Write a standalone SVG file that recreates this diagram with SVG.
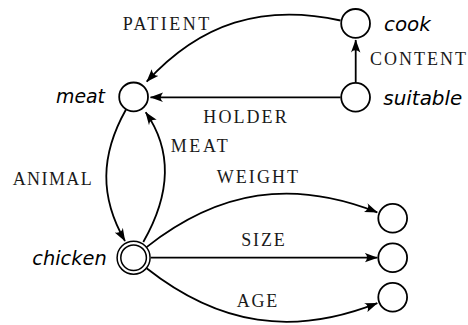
<svg xmlns="http://www.w3.org/2000/svg" width="468" height="325" viewBox="0 0 468 325">
<defs>
<marker id="arr" markerUnits="userSpaceOnUse" markerWidth="14" markerHeight="11" viewBox="0 0 14 11" refX="12.5" refY="5.5" orient="auto">
<path d="M0,0.8 Q4.5,4.5 0,10.2 L13,5.5 Z" fill="#000"/>
</marker>
<style>
.n{fill:#fff;stroke:#000;stroke-width:1.8}
.d{fill:none;stroke:#000;stroke-width:1.5}
.e{fill:none;stroke:#000;stroke-width:1.8;marker-end:url(#arr)}
.lbl{font-family:"Liberation Serif","Times New Roman",serif;font-size:18px;fill:#1a1a1a}
.nm{font-family:"DejaVu Sans","Liberation Sans",sans-serif;font-style:italic;font-size:19px;fill:#000}
</style>
</defs>
<rect width="468" height="325" fill="#fff"/>
<g id="edges">
<path class="e" d="M340.5,20.5 C262.9,3.3 200.4,23.1 146.7,81.7"/>
<path class="e" d="M340.5,97.3 L150.5,97.3"/>
<path class="e" d="M355.7,82 L355.7,40"/>
<path class="e" d="M126,109.5 C100.15,155.4 99.65,197.1 125,241"/>
<path class="e" d="M143.3,242 C168.3,198.4 174.4,153.3 145.7,112.3"/>
<path class="e" d="M146.6,247.1 C219.5,189.7 293,179 377.3,212.3"/>
<path class="e" d="M151,257.7 L377.3,257.7"/>
<path class="e" d="M146.6,268.3 C219.5,325.7 293,336.4 377.3,303.1"/>
</g>
<g id="edge-labels">
<text class="lbl" x="122.7" y="30" textLength="86.6" lengthAdjust="spacing">PATIENT</text>
<text class="lbl" x="370" y="65.3" textLength="96" lengthAdjust="spacing">CONTENT</text>
<text class="lbl" x="203.3" y="123.3" textLength="83.4" lengthAdjust="spacing">HOLDER</text>
<text class="lbl" x="12.7" y="185" textLength="79" lengthAdjust="spacing">ANIMAL</text>
<text class="lbl" x="170.7" y="151.5" textLength="57" lengthAdjust="spacing">MEAT</text>
<text class="lbl" x="216.7" y="183.2" textLength="81.3" lengthAdjust="spacing">WEIGHT</text>
<text class="lbl" x="241.3" y="245.6" textLength="43.4" lengthAdjust="spacing">SIZE</text>
<text class="lbl" x="236.7" y="306.6" textLength="40.6" lengthAdjust="spacing">AGE</text>
</g>
<g id="meat">
<circle class="n" cx="133.6" cy="96.9" r="14.4"/>
<text class="nm" x="56" y="103.4" textLength="49" lengthAdjust="spacingAndGlyphs">meat</text>
</g>
<g id="cook">
<circle class="n" cx="355.6" cy="23.4" r="14.4"/>
<text class="nm" x="384" y="30.5" textLength="46.7" lengthAdjust="spacingAndGlyphs">cook</text>
</g>
<g id="suitable">
<circle class="n" cx="355.6" cy="97.3" r="14.4"/>
<text class="nm" x="383.3" y="104.6" textLength="79" lengthAdjust="spacingAndGlyphs">suitable</text>
</g>
<g id="chicken">
<circle class="d" cx="133.6" cy="257.7" r="16.5" fill="#fff"/>
<circle class="d" cx="133.6" cy="257.7" r="12.8"/>
<text class="nm" x="32.3" y="265.3" textLength="74.4" lengthAdjust="spacingAndGlyphs">chicken</text>
</g>
<g id="weight-value">
<circle class="n" cx="392.7" cy="218.3" r="14.4"/>
</g>
<g id="size-value">
<circle class="n" cx="392.7" cy="257.7" r="14.4"/>
</g>
<g id="age-value">
<circle class="n" cx="392.7" cy="297.3" r="14.4"/>
</g>
</svg>
